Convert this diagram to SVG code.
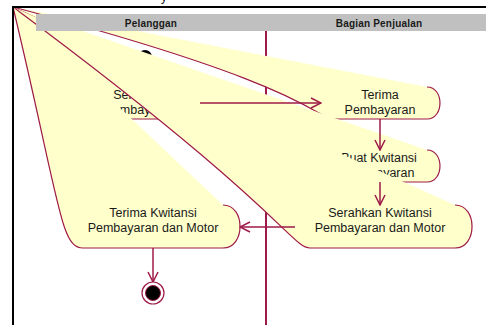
<svg xmlns="http://www.w3.org/2000/svg" width="486" height="325" viewBox="0 0 486 325">
  <style>
    .lane { stroke: #9e1a48; stroke-width: 2; fill: none; }
    .act { fill: #ffffcc; stroke: #9e1a48; stroke-width: 1.2; }
    .lbl { font-family: "Liberation Sans", Arial, sans-serif; font-size: 12.5px; fill: #1a1a1a; text-anchor: middle; }
    .hdr { font-family: "Liberation Sans", Arial, sans-serif; font-size: 10px; font-weight: bold; fill: #1a1a1a; text-anchor: middle; letter-spacing: 0.2px; }
    .flow { stroke: #9e1a48; stroke-width: 1.5; fill: none; marker-end: url(#open); }
  </style>
  <defs>
    <marker id="open" viewBox="0 0 12 12" refX="11" refY="6" markerWidth="12" markerHeight="12" markerUnits="userSpaceOnUse" orient="auto">
      <path d="M1,1 L11,6 L1,11" fill="none" stroke="#9e1a48" stroke-width="1.5"/>
    </marker>
  </defs>

  <rect width="486" height="325" fill="#ffffff"/>

  <!-- lane divider -->
  <line class="lane" x1="266" y1="31" x2="266" y2="325"/>

  <!-- start state -->
  <g id="start">
    <circle cx="145" cy="57" r="7" fill="#000000"/>
    <line x1="145" y1="64" x2="145" y2="87" stroke="#9e1a48" stroke-width="1.5"/>
  </g>

  <!-- action states; each outline starts from the frame corner -->
  <g id="serahkan-pembayaran">
    <path class="act" d="M13,7 C75.7,87 75.7,119 93,119 L187,119 C204.3,119 204.3,87 187,87"/>
    <text class="lbl" x="140" y="98.5">Serahkan</text>
    <text class="lbl" x="140" y="113.5">Pembayaran</text>
  </g>

  <g id="terima-pembayaran">
    <path class="act" d="M13,7 C315.7,87 315.7,119 333,119 L427,119 C444.3,119 444.3,87 427,87"/>
    <text class="lbl" x="380" y="98.5">Terima</text>
    <text class="lbl" x="380" y="113.5">Pembayaran</text>
  </g>

  <g id="buat-kwitansi">
    <path class="act" d="M13,7 C315.7,150 315.7,182 333,182 L427,182 C444.3,182 444.3,150 427,150"/>
    <text class="lbl" x="379" y="162">Buat Kwitansi</text>
    <text class="lbl" x="379" y="176.5">Pembayaran</text>
  </g>

  <g id="serahkan-kwitansi">
    <path class="act" d="M13,7 C282,207 292,248 310,248 L455,248 C477.7,248 477.7,205 455,205"/>
    <text class="lbl" x="380" y="217">Serahkan Kwitansi</text>
    <text class="lbl" x="380" y="232">Pembayaran dan Motor</text>
  </g>

  <g id="terima-kwitansi">
    <path class="act" d="M13,7 C60.3,205 60.3,248 83,248 L223,248 C245.7,248 245.7,205 223,205"/>
    <text class="lbl" x="153" y="217">Terima Kwitansi</text>
    <text class="lbl" x="153" y="231.5">Pembayaran dan Motor</text>
  </g>

  <!-- transitions -->
  <g id="transitions">
    <line class="flow" x1="200" y1="103" x2="321" y2="103"/>
    <line class="flow" x1="380" y1="119" x2="380" y2="150"/>
    <line class="flow" x1="380" y1="182" x2="380" y2="205"/>
    <line class="flow" x1="295" y1="227" x2="240" y2="227"/>
    <line class="flow" x1="153" y1="248" x2="153" y2="282"/>
  </g>

  <!-- end state -->
  <g id="end">
    <circle cx="153" cy="293" r="11" fill="#ffffff" stroke="#9e1a48" stroke-width="1.2"/>
    <circle cx="153" cy="293" r="7.5" fill="#000000" stroke="#9e1a48" stroke-width="1"/>
  </g>

  <!-- swimlane header -->
  <g id="header">
    <rect x="36" y="14" width="450" height="17" fill="#c0c0c0"/>
    <text class="hdr" x="151" y="26.5">Pelanggan</text>
    <text class="hdr" x="379" y="26.5">Bagian Penjualan</text>
  </g>

  <!-- frame -->
  <rect x="13" y="7" width="480" height="330" fill="none" stroke="#000000" stroke-width="2"/>
  <text x="161" y="0.5" font-family="Liberation Sans, Arial, sans-serif" font-size="12" fill="#1a1a1a">y</text>
</svg>
